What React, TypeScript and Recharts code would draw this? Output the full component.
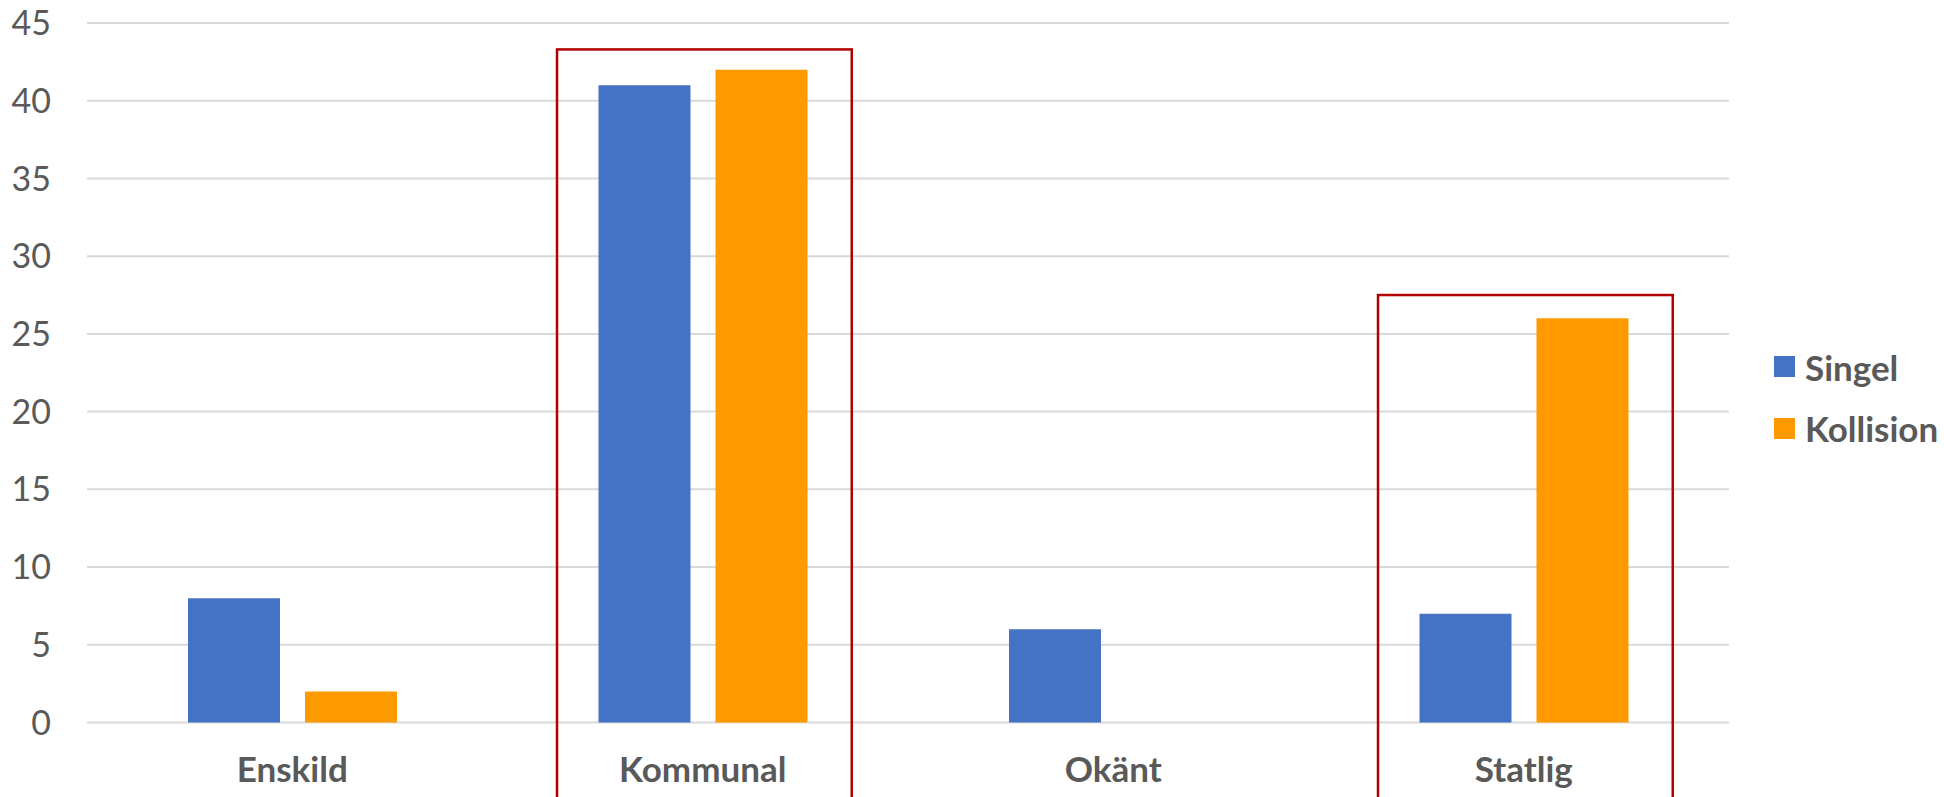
import { BarChart, Bar, XAxis, YAxis, CartesianGrid, Legend, ReferenceArea } from 'recharts';

const categories = ['Enskild', 'Kommunal', 'Okänt', 'Statlig'];
const seriesNames = ['Singel', 'Kollision'];
const singel = [8, 41, 6, 7];
const kollision = [2, 42, 0, 26];
const yTicks = [0, 5, 10, 15, 20, 25, 30, 35, 40, 45];

// highlighted categories (red boxes) and the value their top edge sits at
const highlightCats = ['Kommunal', 'Statlig'];
const highlightTops = [43.3, 27.5];

const data = categories.map((name, i) => ({ name, Singel: singel[i], Kollision: kollision[i] }));

const FONT = 'Lato, "Open Sans", sans-serif';
const TEXT = '#595959';

// the box is narrower than the category band, so inset it
const InsetBox = (props: any) => {
  const { x, y, width, height } = props;
  return (
    <rect
      x={x + width * 0.145}
      y={y}
      width={width * 0.718}
      height={height}
      fill="none"
      stroke="#B00000"
      strokeWidth={2.5}
    />
  );
};

const renderLegend = (props: any) => {
  const payload = [...(props.payload || [])].sort(
    (a: any, b: any) => seriesNames.indexOf(a.value) - seriesNames.indexOf(b.value)
  );
  return (
    <div style={{ fontFamily: FONT }}>
      {payload.map((p: any) => (
        <div key={p.value} style={{ display: 'flex', alignItems: 'center', height: 61.5 }}>
          <span style={{ width: 21, height: 21, background: p.color, display: 'inline-block', marginRight: 10 }} />
          <span style={{ fontSize: 35, fontWeight: 700, color: TEXT }}>{p.value}</span>
        </div>
      ))}
    </div>
  );
};

export default function App() {
  return (
    <div style={{ position: 'absolute', left: 0, top: 0, background: '#fff' }}>
      <BarChart
        width={1944}
        height={797}
        data={data}
        margin={{ top: 23, right: 215, bottom: 0, left: 0 }}
        barSize={92}
        barGap={25}
      >
        <CartesianGrid vertical={false} stroke="#d9d9d9" strokeWidth={2} />
        <XAxis
          dataKey="name"
          height={74.5}
          axisLine={false}
          tickLine={false}
          tickSize={0}
          tickMargin={35}
          tick={{ fontSize: 35, fontWeight: 700, fill: TEXT, fontFamily: FONT }}
        />
        <YAxis
          width={87}
          domain={[0, 45]}
          ticks={yTicks}
          axisLine={false}
          tickLine={false}
          tickSize={0}
          tickMargin={36}
          tick={{ fontSize: 34, fill: TEXT, fontFamily: FONT }}
        />
        <Legend
          layout="vertical"
          align="center"
          verticalAlign="middle"
          content={renderLegend}
          wrapperStyle={{ left: 1774, top: 336, width: 170 }}
        />
        <Bar dataKey="Singel" fill="#4472C4" isAnimationActive={false} />
        <Bar dataKey="Kollision" fill="#FF9900" isAnimationActive={false} />
        {highlightCats.map((c, i) => (
          <ReferenceArea
            key={c}
            x1={c}
            x2={c}
            y1={-7}
            y2={highlightTops[i]}
            ifOverflow="visible"
            shape={InsetBox}
          />
        ))}
      </BarChart>
    </div>
  );
}
